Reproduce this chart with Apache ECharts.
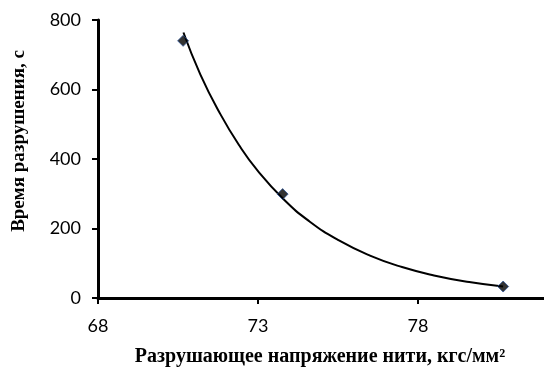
<!DOCTYPE html>
<html><head><meta charset="utf-8">
<script src="https://cdn.jsdelivr.net/npm/echarts@6/dist/echarts.min.js"></script>
<style>html,body{margin:0;padding:0;background:#fff}#c{width:544px;height:367px}</style>
</head><body><div id="c"></div>
<script>
// measured points
var stressX = [70.66, 73.77, 80.66];
var timeY = [740, 299, 33];
// trend curve
var trendX = [70.67, 71.2, 71.8, 72.4, 73.0, 73.8, 74.6, 75.5, 76.5, 77.5, 78.5, 79.6, 80.66];
var trendY = [764, 643, 533, 441, 365, 284, 221, 167, 122, 89, 65, 46, 33];
var xTicks = [68, 73, 78, 83];
var yTicks = [0, 200, 400, 600, 800];
var xTitle = 'Разрушающее напряжение нити, кгс/мм²';
var yTitle = 'Время разрушения, с';

var chart = echarts.init(document.getElementById('c'));
var pts = stressX.map(function(x,i){return [x,timeY[i]];});
var trend = trendX.map(function(x,i){return [x,trendY[i]];});
var axisFont = {fontFamily:'Lato', fontSize:18, color:'#000'};
chart.setOption({
  animation:false,
  grid:{left:98, top:20, height:278, width:480, outerBoundsMode:'none', containLabel:false},
  xAxis:{type:'value', min:xTicks[0], max:xTicks[xTicks.length-1], interval:5,
    axisLine:{onZero:false, lineStyle:{color:'#000', width:3}},
    axisTick:{show:true, length:6, lineStyle:{color:'#000', width:2}},
    axisLabel:Object.assign({margin:19}, axisFont),
    splitLine:{show:false}},
  yAxis:{type:'value', min:yTicks[0], max:yTicks[yTicks.length-1], interval:200,
    axisLine:{show:true, lineStyle:{color:'#000', width:3}},
    axisTick:{show:true, length:6, lineStyle:{color:'#000', width:2}},
    axisLabel:Object.assign({margin:17}, axisFont),
    splitLine:{show:false}},
  graphic:[
    {type:'text', x:320, y:357, style:{text:xTitle, x:0, y:0, align:'center', verticalAlign:'middle',
      font:'bold 20px "Liberation Serif"', fill:'#000'}},
    {type:'text', x:19, y:141, rotation:Math.PI/2, style:{text:yTitle, x:0, y:0, align:'center', verticalAlign:'middle',
      font:'bold 19px "Liberation Serif"', fill:'#000'}}
  ],
  series:[
    {type:'line', data:trend, smooth:true, showSymbol:false, lineStyle:{color:'#000', width:2}, z:2},
    {type:'scatter', data:pts, symbol:'diamond', symbolSize:11,
      itemStyle:{color:'#000', borderColor:'#2F5597', borderWidth:1}, z:3}
  ]
});
</script></body></html>
